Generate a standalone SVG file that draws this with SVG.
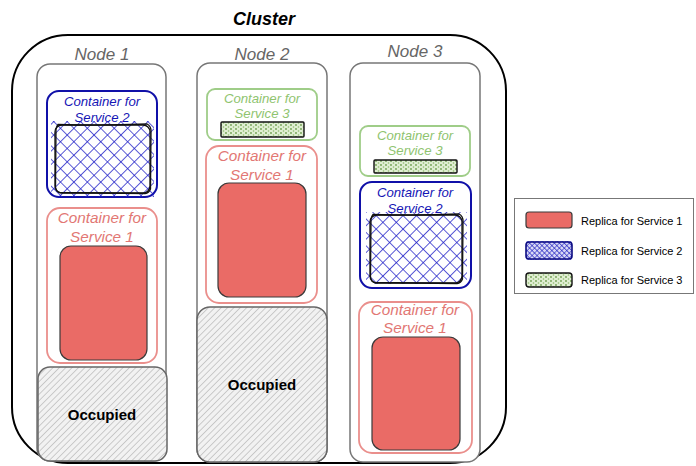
<svg xmlns="http://www.w3.org/2000/svg" width="696" height="466" viewBox="0 0 696 466">
  <defs>
    <!-- cross-hatch used for Service 2 replicas -->
    <pattern id="xhatch" width="9.5" height="9.5" patternUnits="userSpaceOnUse" patternTransform="rotate(45)">
      <path d="M0 0V9.5M0 0H9.5" stroke="#2020c8" stroke-width="1.5" fill="none"/>
    </pattern>
    <pattern id="xhatchFine" width="3.5" height="3.5" patternUnits="userSpaceOnUse" patternTransform="rotate(45)">
      <rect width="3.5" height="3.5" fill="#d8d8f4"/>
      <path d="M0 0V3.5M0 0H3.5" stroke="#1a1ac0" stroke-width="1.1" fill="none"/>
    </pattern>
    <!-- diagonal hatch for occupied space -->
    <pattern id="diag" width="4.5" height="4.5" patternUnits="userSpaceOnUse" patternTransform="rotate(45)">
      <rect width="4.5" height="4.5" fill="#f2f2f2"/>
      <path d="M0 0V4.5" stroke="#9a9a9a" stroke-width="0.9"/>
    </pattern>
    <!-- speckled fill for Service 3 replicas -->
    <pattern id="dots" width="5" height="4" patternUnits="userSpaceOnUse">
      <rect width="5" height="4" fill="#e0eed2"/>
      <circle cx="1" cy="1" r="0.9" fill="#6f9e4f"/>
      <circle cx="3.5" cy="3" r="0.8" fill="#8dbb6c"/>
    </pattern>
  </defs>
  <style>
    .title{font-family:"Liberation Sans",Arial,sans-serif;font-weight:bold;font-style:italic;font-size:18px;fill:#000}
    .nodelbl{font-family:"Liberation Sans",Arial,sans-serif;font-style:italic;font-size:17px;fill:#666}
    .node{fill:#fff;stroke:#777;stroke-width:1.5}
    .c1{fill:none;stroke:#ea8f8c;stroke-width:1.8}
    .c2{fill:none;stroke:#1010a8;stroke-width:2}
    .c3{fill:none;stroke:#9fcd88;stroke-width:1.8}
    .t1{font-family:"Liberation Sans",Arial,sans-serif;font-style:italic;font-size:15.3px;fill:#e27774;text-anchor:middle}
    .t2{font-family:"Liberation Sans",Arial,sans-serif;font-style:italic;font-size:13.2px;fill:#1515b5;text-anchor:middle}
    .t3{font-family:"Liberation Sans",Arial,sans-serif;font-style:italic;font-size:13.2px;fill:#8fc46f;text-anchor:middle}
    .r1{fill:#ea6b66;stroke:#3a3a3a;stroke-width:1.2}
    .r2{fill:url(#xhatch)}
    .sk{fill:none;stroke:#111;stroke-width:1.3}
    .r3{fill:url(#dots);stroke:#111;stroke-width:1.4}
    .occ{fill:url(#diag);stroke:#666;stroke-width:1.5}
    .occt{font-family:"Liberation Sans",Arial,sans-serif;font-weight:bold;font-size:15px;fill:#000;text-anchor:middle}
    .leg{font-family:"Liberation Sans",Arial,sans-serif;font-size:11px;fill:#000}
  </style>

  <!-- cluster boundary -->
  <g id="cluster">
    <rect x="12" y="35" width="494" height="428" rx="56" ry="56" fill="none" stroke="#000" stroke-width="2"/>
    <text class="title" x="264" y="25" text-anchor="middle">Cluster</text>
  </g>

  <!-- Node 1 -->
  <g id="node1">
    <text class="nodelbl" x="102" y="60" text-anchor="middle">Node 1</text>
    <rect class="node" x="37" y="64" width="129" height="397" rx="13"/>
    <g id="n1-svc2">
      <rect class="c2" x="47" y="91" width="110" height="106" rx="12"/>
      <text class="t2" x="102" y="106">Container for</text>
      <text class="t2" x="102" y="122">Service 2</text>
      <rect class="r2" x="51" y="121" width="103" height="76"/>
      <rect class="sk" x="55" y="125" width="95" height="68" rx="7"/>
      <path class="sk" d="M58 124.5 Q100 126 147 124 Q151 126 151 131 L150.5 189 Q149 193 145 193.5 L60 192.5 Q56 192 55.5 187 L56 129 Q57 125.5 58 124.5Z"/>
    </g>
    <g id="n1-svc1">
      <rect class="c1" x="47" y="208" width="110" height="155" rx="13"/>
      <text class="t1" x="102" y="223">Container for</text>
      <text class="t1" x="102" y="242">Service 1</text>
      <rect class="r1" x="60" y="246" width="87" height="114" rx="11"/>
    </g>
    <g id="n1-occupied">
      <rect class="occ" x="38" y="367" width="129" height="94" rx="12"/>
      <text class="occt" x="102" y="420">Occupied</text>
    </g>
  </g>

  <!-- Node 2 -->
  <g id="node2">
    <text class="nodelbl" x="262" y="60" text-anchor="middle">Node 2</text>
    <rect class="node" x="197" y="63" width="130" height="399" rx="13"/>
    <g id="n2-svc3">
      <rect class="c3" x="207" y="89" width="110" height="51" rx="8"/>
      <text class="t3" x="262" y="103">Container for</text>
      <text class="t3" x="262" y="118">Service 3</text>
      <rect class="r3" x="221" y="122" width="83" height="15" rx="1"/>
    </g>
    <g id="n2-svc1">
      <rect class="c1" x="206" y="146" width="111" height="157" rx="13"/>
      <text class="t1" x="262" y="161">Container for</text>
      <text class="t1" x="262" y="180">Service 1</text>
      <rect class="r1" x="218" y="183" width="88" height="114" rx="11"/>
    </g>
    <g id="n2-occupied">
      <rect class="occ" x="197" y="307" width="130" height="155" rx="13"/>
      <text class="occt" x="262" y="390">Occupied</text>
    </g>
  </g>

  <!-- Node 3 -->
  <g id="node3">
    <text class="nodelbl" x="415" y="57" text-anchor="middle">Node 3</text>
    <rect class="node" x="350" y="63" width="130" height="399" rx="13"/>
    <g id="n3-svc3">
      <rect class="c3" x="360" y="126" width="110" height="50" rx="8"/>
      <text class="t3" x="415" y="140">Container for</text>
      <text class="t3" x="415" y="155">Service 3</text>
      <rect class="r3" x="374" y="160" width="83" height="13" rx="1"/>
    </g>
    <g id="n3-svc2">
      <rect class="c2" x="360" y="182" width="111" height="106" rx="12"/>
      <text class="t2" x="415" y="197">Container for</text>
      <text class="t2" x="415" y="213">Service 2</text>
      <rect class="r2" x="366" y="212" width="101" height="72"/>
      <rect class="sk" x="370" y="215" width="92" height="68" rx="7"/>
      <path class="sk" d="M373 214.5 Q415 216 459 214 Q463 216 463 221 L462.5 279 Q461 283 457 283.5 L375 282.5 Q371 282 370.5 277 L371 219 Q372 215.5 373 214.5Z"/>
    </g>
    <g id="n3-svc1">
      <rect class="c1" x="359" y="302" width="113" height="151" rx="13"/>
      <text class="t1" x="415" y="315">Container for</text>
      <text class="t1" x="415" y="333">Service 1</text>
      <rect class="r1" x="372" y="337" width="88" height="113" rx="11"/>
    </g>
  </g>

  <!-- legend -->
  <g id="legend">
    <rect x="514.5" y="198.5" width="179" height="95" fill="#fff" stroke="#777" stroke-width="1"/>
    <rect class="r1" x="526" y="212" width="46" height="16" rx="3"/>
    <text class="leg" x="581" y="225">Replica for Service 1</text>
    <rect x="526" y="241" width="46" height="19" rx="2" fill="url(#xhatchFine)"/>
    <rect x="526" y="242" width="46" height="17" rx="3" fill="none" stroke="#0a0a80" stroke-width="1.6"/>
    <text class="leg" x="581" y="255">Replica for Service 2</text>
    <rect class="r3" x="526" y="273" width="46" height="14" rx="3" stroke-width="1.1"/>
    <text class="leg" x="581" y="284">Replica for Service 3</text>
  </g>
</svg>
